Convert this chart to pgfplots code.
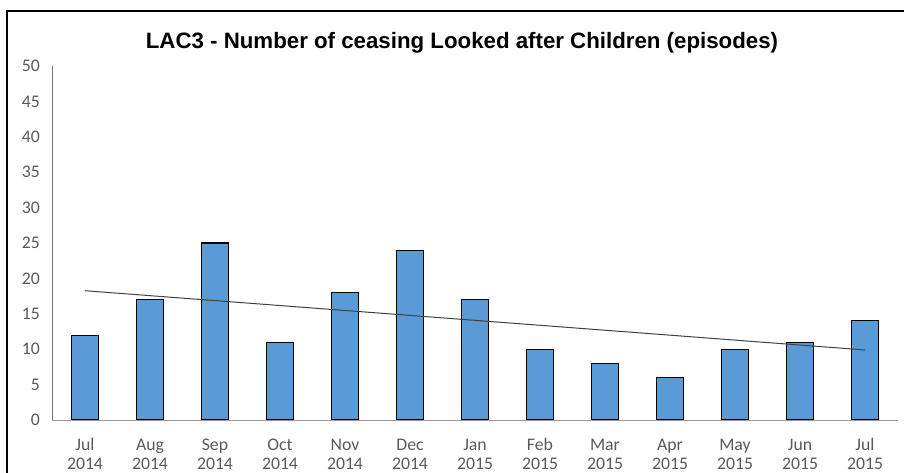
\documentclass[border=0pt]{standalone}
\usepackage{pgfplots}
\pgfplotsset{compat=1.18}
\usepackage{fontspec}
\setmainfont{Carlito}
\newfontfamily\titlefont{Liberation Sans}
\definecolor{barblue}{HTML}{5B9BD5}
\definecolor{ticktext}{HTML}{595959}
\definecolor{trend}{HTML}{404040}
\newcommand\mlab[2]{\strut#1\\\strut#2}
\begin{document}
\begin{tikzpicture}[x=0.75pt,y=0.75pt]
\useasboundingbox (0,0) rectangle (904,472);
\clip (0,0) rectangle (904,472);
% chart frame
\draw[line width=1.5pt,black] (7,-20) -- (7,461) -- (930,461);
\node[anchor=base,font=\titlefont\bfseries\fontsize{16.7}{19}\selectfont] at (462,423) {LAC3 - Number of ceasing Looked after Children (episodes)};
\begin{axis}[
  at={(39.375pt,39pt)}, anchor=south west,
  scale only axis, width=633.75pt, height=265.5pt,
  xmin=-0.5, xmax=12.5, ymin=0, ymax=50,
  ytick={0,5,...,50},
  xtick={0,...,12},
  xticklabels={\mlab{Jul}{2014},\mlab{Aug}{2014},\mlab{Sep}{2014},\mlab{Oct}{2014},\mlab{Nov}{2014},\mlab{Dec}{2014},\mlab{Jan}{2015},\mlab{Feb}{2015},\mlab{Mar}{2015},\mlab{Apr}{2015},\mlab{May}{2015},\mlab{Jun}{2015},\mlab{Jul}{2015}},
  axis x line*=bottom, axis y line*=left,
  axis on top,
  x axis line style={draw=gray!80, line width=0.75pt, -},
  y axis line style={draw=gray!90!black, line width=0.75pt, -},
  major tick length=0pt,
  /pgf/number format/assume math mode=true,
  ticklabel style={font=\fontsize{13.3}{14.2}\selectfont, text=ticktext},
  yticklabel style={xshift=-6pt},
  xticklabel style={align=center, anchor=north, inner sep=0pt, yshift=-12.5pt},
  clip=false,
]
\addplot[ybar, bar shift=0pt, bar width=20.25pt, fill=barblue, draw=black, line width=0.8pt]
  coordinates {(0,12) (1,17) (2,25) (3,11) (4,18) (5,24) (6,17) (7,10) (8,8) (9,6) (10,10) (11,11) (12,14)};
% linear trend of the monthly counts
\addplot[trend, line width=0.75pt, mark=none] coordinates {(0,18.26) (12,9.89)};
\end{axis}
\end{tikzpicture}
\end{document}
